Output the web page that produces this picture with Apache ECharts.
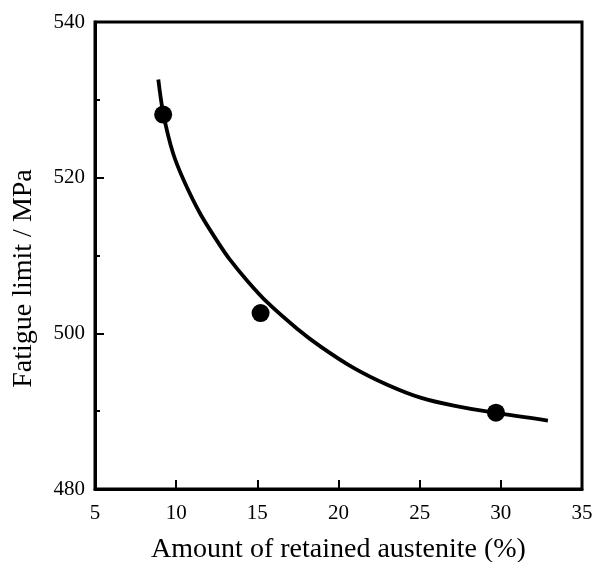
<!DOCTYPE html>
<html>
<head>
<meta charset="utf-8">
<script src="https://cdn.jsdelivr.net/npm/echarts@6/dist/echarts.min.js"></script>
<style>
  html, body { margin: 0; padding: 0; background: #fff; }
  #chart { width: 594px; height: 562px; }
</style>
</head>
<body>
<div id="chart"></div>
<script>
// measured points
var austenite = [9.2, 15.2, 29.7];
var fatigue = [528.1, 502.6, 489.8];

// fitted curve
var curveX = [8.9, 9.2, 9.8, 10.5, 11.5, 12.7, 13.3, 14.4, 15.6, 17.45, 18.9, 20.9, 23.0, 25.1, 27.1, 29.6, 32.9];
var curveY = [532.6, 528.3, 523.2, 519.5, 515.3, 511.3, 509.5, 506.7, 504.0, 500.6, 498.3, 495.6, 493.4, 491.7, 490.7, 489.8, 488.8];

var font = 'Liberation Serif';

var chart = echarts.init(document.getElementById('chart'));
var option = {
    animation: false,
    backgroundColor: '#fff',
    grid: {
        left: 95, right: 12, top: 22, bottom: 73,
        outerBoundsMode: 'none',
        show: true, borderColor: '#000', borderWidth: 3
    },
    xAxis: {
        type: 'value', min: 5, max: 35, interval: 5,
        name: 'Amount of retained austenite (%)',
        nameLocation: 'middle', nameGap: 47,
        nameTextStyle: { fontFamily: font, fontSize: 28, color: '#000' },
        axisLine: { lineStyle: { color: '#000', width: 3 } },
        axisTick: { inside: true, length: 9, lineStyle: { color: '#000', width: 2 } },
        axisLabel: { fontFamily: font, fontSize: 21, color: '#000', margin: 14 },
        splitLine: { show: false }
    },
    yAxis: {
        type: 'value', min: 480, max: 540, interval: 20,
        name: 'Fatigue limit / MPa',
        nameLocation: 'middle', nameGap: 57,
        nameTextStyle: { fontFamily: font, fontSize: 28, color: '#000', padding: [0, 46, 0, 0] },
        axisLine: { lineStyle: { color: '#000', width: 3 } },
        axisTick: { inside: true, length: 9, lineStyle: { color: '#000', width: 2 } },
        minorTick: { show: true, splitNumber: 2, length: 5, lineStyle: { color: '#000', width: 2 } },
        axisLabel: { fontFamily: font, fontSize: 21, color: '#000', margin: 10 },
        splitLine: { show: false }
    },
    series: [
        {
            type: 'line',
            data: curveX.map(function (x, i) { return [x, curveY[i]]; }),
            smooth: 0.3,
            showSymbol: false,
            lineStyle: { color: '#000', width: 3.8 },
            z: 2
        },
        {
            type: 'scatter',
            data: austenite.map(function (x, i) { return [x, fatigue[i]]; }),
            symbol: 'circle',
            symbolSize: 18,
            itemStyle: { color: '#000', opacity: 1 },
            z: 3
        }
    ]
};
chart.setOption(option);
</script>
</body>
</html>
